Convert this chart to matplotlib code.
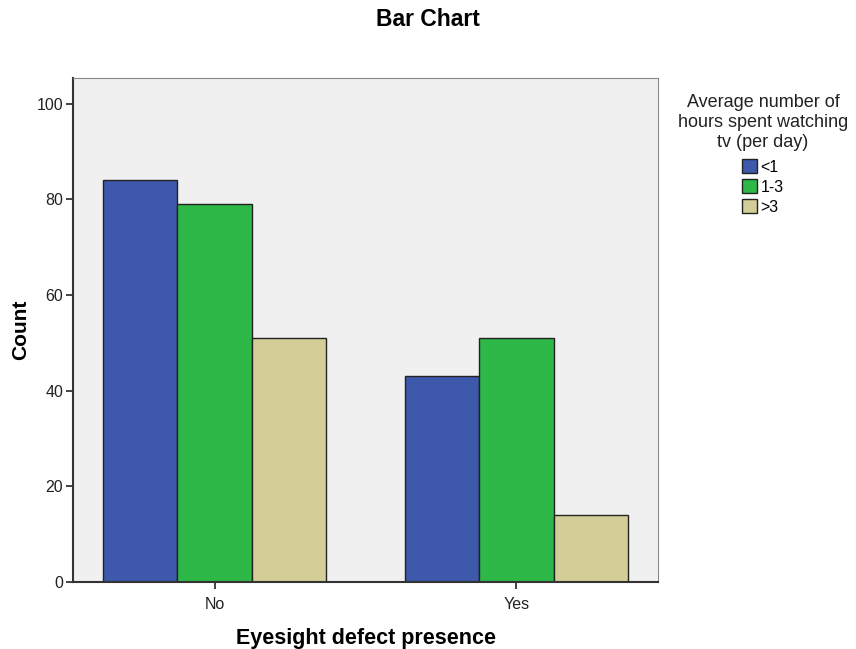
import matplotlib
matplotlib.use("Agg")
import matplotlib.pyplot as plt
import numpy as np
from matplotlib.patches import Patch

plt.rcParams["font.family"] = ["Liberation Sans", "DejaVu Sans"]

categories = ["No", "Yes"]
series_names = ["<1", "1-3", ">3"]
values = {
    "<1": [84, 43],
    "1-3": [79, 51],
    ">3": [51, 14],
}
colors = ["#3E58AC", "#2EB848", "#D3CE97"]

fig = plt.figure(figsize=(8.56, 6.49), dpi=100)
ax = fig.add_axes([73/856, 1-582/649, 585/856, 504/649])
ax.set_facecolor("#F0F0F0")

x = np.arange(len(categories))
w = 0.2467
for i, name in enumerate(series_names):
    ax.bar(x + (i-1)*w, values[name], width=w, color=colors[i],
           edgecolor="#222222", linewidth=1.0, zorder=2)

ax.set_xlim(-0.4686, 1.4686)
ax.set_ylim(0, 105.4)
ax.set_yticks([0, 20, 40, 60, 80, 100])
ax.set_xticks(x)
ax.set_xticklabels(categories)
ax.tick_params(axis="both", labelsize=11.5, colors="#222222", length=5, width=1.2)
ax.tick_params(axis="x", pad=6)
ax.tick_params(axis="y", pad=2)
for s in ax.spines.values():
    s.set_color("#333333")
ax.spines["left"].set_linewidth(1.5)
ax.spines["bottom"].set_linewidth(1.5)
ax.spines["top"].set_linewidth(0.8)
ax.spines["right"].set_linewidth(0.8)
ax.spines["top"].set_color("#888888")
ax.spines["right"].set_color("#888888")

ax.set_ylabel("Count", fontsize=15, fontweight="bold", labelpad=5)
ax.set_xlabel("Eyesight defect presence", fontsize=15.5, fontweight="bold", labelpad=11)
fig.text(428/856, 1-20/649, "Bar Chart", ha="center", va="center", fontsize=16.5, fontweight="bold")

handles = [Patch(facecolor=c, edgecolor="#222222", label=n) for c, n in zip(colors, series_names)]
leg = fig.legend(handles=handles, title="Average number of\nhours spent watching\ntv (per day)",
                 loc="upper center", bbox_to_anchor=(763/856, 1-80/649), frameon=False,
                 fontsize=11.5, title_fontsize=13, handlelength=0.95, handleheight=1.0,
                 handletextpad=0.2, labelspacing=0.28)
leg._legend_box.align = "center"
leg._legend_box.sep = 6
leg.get_title().set_multialignment("center")
leg.get_title().set_color("#222222")

fig.savefig("out.png", dpi=100)
